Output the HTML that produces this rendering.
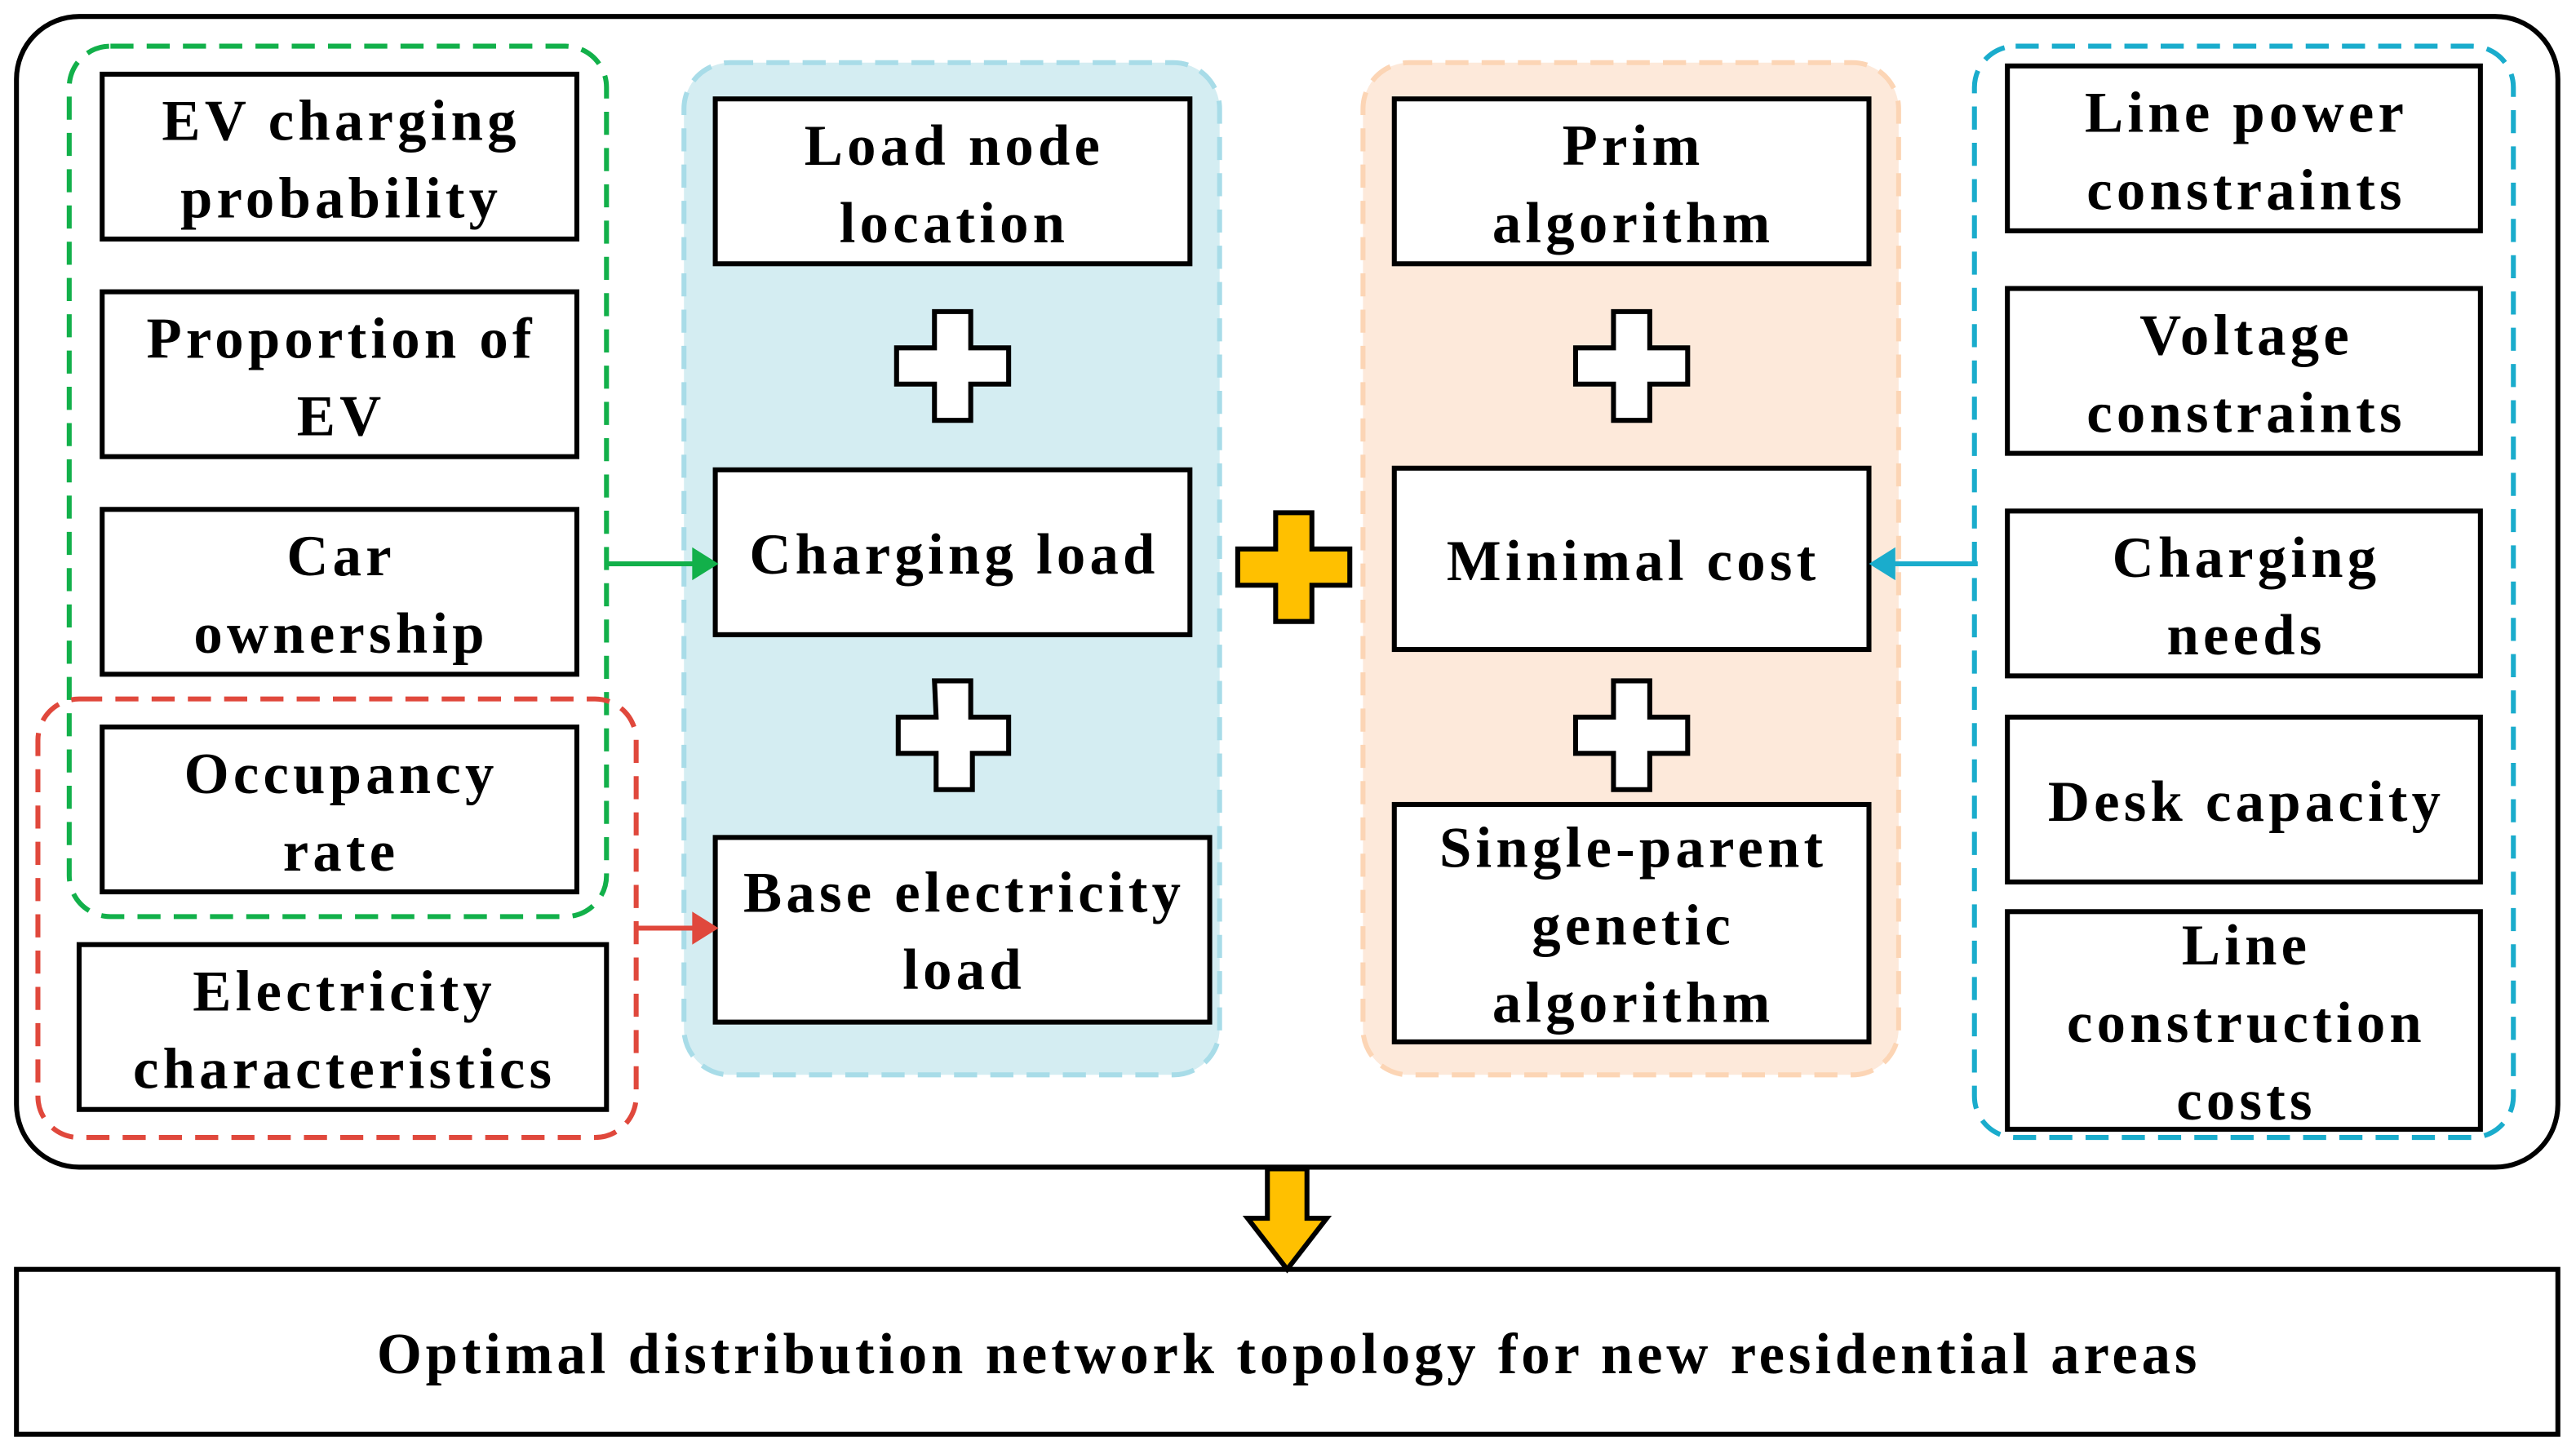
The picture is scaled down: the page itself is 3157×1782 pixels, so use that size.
<!DOCTYPE html>
<html><head><meta charset="utf-8"><style>html,body{margin:0;padding:0;background:#fff}svg{display:block}</style></head><body>
<svg width="3157" height="1782" viewBox="0 0 1563 882" preserveAspectRatio="none" xmlns="http://www.w3.org/2000/svg" font-family="Liberation Serif, serif" font-weight="bold" font-size="35" text-anchor="middle">
<rect x="10" y="10" width="1542" height="698" rx="38" fill="none" stroke="#000" stroke-width="3"/>
<rect x="415" y="38" width="325" height="614" rx="28" fill="#d4edf2" stroke="#a8dce8" stroke-width="3" stroke-dasharray="14,8"/>
<rect x="827" y="38" width="325" height="614" rx="28" fill="#fde9da" stroke="#fcd5b5" stroke-width="3" stroke-dasharray="14,8"/>
<rect x="42" y="28" width="326" height="528" rx="25" fill="none" stroke="#12b04a" stroke-width="3" stroke-dasharray="14,8"/>
<rect x="23" y="424" width="363" height="266" rx="25" fill="none" stroke="#e0483c" stroke-width="3" stroke-dasharray="14,8"/>
<rect x="1198" y="28" width="327" height="662" rx="25" fill="none" stroke="#1aaccc" stroke-width="3" stroke-dasharray="14,8"/>
<g fill="#fff" stroke="#000" stroke-width="3">
<rect x="62" y="45" width="288" height="100"/>
<rect x="62" y="177" width="288" height="100"/>
<rect x="62" y="309" width="288" height="100"/>
<rect x="62" y="441" width="288" height="100"/>
<rect x="48" y="573" width="320" height="100"/>
<rect x="434" y="60" width="288" height="100"/>
<rect x="434" y="285" width="288" height="100"/>
<rect x="434" y="508" width="300" height="112"/>
<rect x="846" y="60" width="288" height="100"/>
<rect x="846" y="284" width="288" height="110"/>
<rect x="846" y="488" width="288" height="144"/>
<rect x="1218" y="40" width="287" height="100"/>
<rect x="1218" y="175" width="287" height="100"/>
<rect x="1218" y="310" width="287" height="100"/>
<rect x="1218" y="435" width="287" height="100"/>
<rect x="1218" y="553" width="287" height="132"/>
<rect x="10" y="770" width="1542" height="100"/>
</g>
<g stroke="#000" stroke-width="3" fill="#fff">
<path d="M567,189h22v22h23v22h-23v22h-22v-22h-23v-22h23z"/>
<path d="M567,413h22v22h23v22h-22v22h-22v-22h-23v-22h23z"/>
<path d="M979,189h22v22h23v22h-23v22h-22v-22h-23v-22h23z"/>
<path d="M979,413h22v22h23v22h-23v22h-22v-22h-23v-22h23z"/>
<path d="M774,311h22v22h23v22h-23v22h-22v-22h-23v-22h23z" fill="#ffc000"/>
<path d="M769,709h24v30h12l-24,31l-24,-31h12z" fill="#ffc000"/>
</g>
<line x1="368" y1="342" x2="422" y2="342" stroke="#12b04a" stroke-width="3"/>
<path d="M420,332 L436,342 L420,352Z" fill="#12b04a"/>
<line x1="386" y1="563" x2="422" y2="563" stroke="#e0483c" stroke-width="3"/>
<path d="M420,553 L436,563 L420,573Z" fill="#e0483c"/>
<line x1="1200" y1="342" x2="1148" y2="342" stroke="#1aaccc" stroke-width="3"/>
<path d="M1150,332 L1134,342 L1150,352Z" fill="#1aaccc"/>
<g fill="#000" letter-spacing="2.6">
<text x="207" y="85">EV charging</text><text x="207" y="132">probability</text>
<text x="207" y="217">Proportion of</text><text x="207" y="264">EV</text>
<text x="207" y="349">Car</text><text x="207" y="396">ownership</text>
<text x="207" y="481">Occupancy</text><text x="207" y="528">rate</text>
<text x="209" y="613">Electricity</text><text x="209" y="660">characteristics</text>
<text x="579" y="100">Load node</text><text x="579" y="147">location</text>
<text x="579" y="348">Charging load</text>
<text x="585" y="553">Base electricity</text><text x="585" y="600">load</text>
<text x="991" y="100">Prim</text><text x="991" y="147">algorithm</text>
<text x="991" y="352">Minimal cost</text>
<text x="991" y="526">Single-parent</text><text x="991" y="573">genetic</text><text x="991" y="620">algorithm</text>
<text x="1363" y="80">Line power</text><text x="1363" y="127">constraints</text>
<text x="1363" y="215">Voltage</text><text x="1363" y="262">constraints</text>
<text x="1363" y="350">Charging</text><text x="1363" y="397">needs</text>
<text x="1363" y="498">Desk capacity</text>
<text x="1363" y="585">Line</text><text x="1363" y="632">construction</text><text x="1363" y="679">costs</text>
</g>
<text x="782" y="833" fill="#000" letter-spacing="2.4">Optimal distribution network topology for new residential areas</text>
</svg>
</body></html>
